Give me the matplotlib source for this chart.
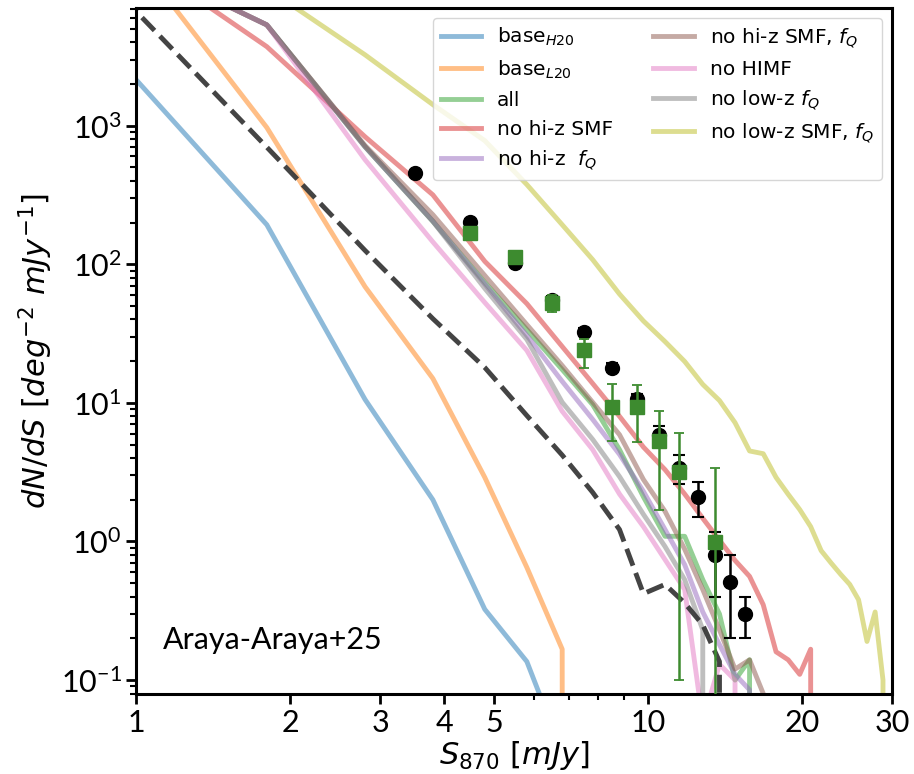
import numpy as np
import matplotlib
matplotlib.use("Agg")
import matplotlib.pyplot as plt
from matplotlib.ticker import FixedLocator, NullFormatter

plt.rcParams["font.family"] = ["Lato", "DejaVu Sans"]
plt.rcParams["mathtext.fontset"] = "dejavusans"

# flux bins of the model counts [mJy]
s_bins = [0.8, 1.8, 2.8, 3.8, 4.8, 5.8, 6.8, 7.8, 8.8, 9.8,
          10.8, 11.8, 12.8, 13.8, 14.8, 15.8, 16.8, 17.8, 18.8, 19.8,
          20.8, 21.8, 22.8, 23.8, 24.8, 25.8, 26.8, 27.8, 28.8, 29.8]

# model number counts dN/dS, one list per run (0 = no sources)
base_h20 = [5350, 193, 10.6, 2.0, 0.324, 0.136, 0.03, 0]
base_l20 = [47100, 970, 69, 15, 2.9, 0.65, 0.167, 0]
run_all = [22600, 5340, 706, 204, 74, 33.8, 17.4, 9.7, 4.6, 2.1, 1.09, 1.09,
           0.53, 0.30, 0.10, 0.14, 0]
no_hiz_smf = [29100, 3720, 833, 317, 105, 52, 25.5, 13.8, 8.0, 4.8, 3.3, 2.2,
              1.47, 1.02, 0.73, 0.56, 0.35, 0.16, 0.14, 0.11, 0.167, 0]
no_hiz_fq = [22600, 5340, 706, 205, 72, 30.6, 14.3, 7.6, 4.25, 2.3, 1.22, 0.68,
             0.31, 0.18, 0.11, 0.085, 0]
no_hiz_smf_fq = [22600, 5340, 720, 228, 83, 36.7, 18.6, 10.1, 5.9, 2.8, 1.65,
                 0.88, 0.45, 0.23, 0.12, 0.14, 0.08, 0]
no_himf = [22600, 5340, 569, 145, 53, 23.9, 8.7, 4.6, 2.2, 1.28, 0.74, 0.45,
           0.05, 0.13, 0.10, 0]
no_lowz_fq = [22600, 5340, 706, 204, 67, 28.7, 10.1, 5.45, 2.94, 1.57, 0.92,
              0.53, 0.23, 0]
no_lowz_smf_fq = [73300, 9800, 3250, 1420, 780, 376, 193, 108, 61, 39, 27.7,
                  19.9, 13.6, 10.4, 7.2, 4.5, 4.3, 2.9, 2.19, 1.70, 1.28, 0.86,
                  0.70, 0.58, 0.49, 0.38, 0.19, 0.31, 0.10, 0]
dashed_ref = [15700, 700, 126, 40.5, 18, 8.1, 4.2, 2.26, 1.22, 0.42, 0.49,
              0.36, 0.25, 0.136, 0]

labels = [r"base$_{H20}$", r"base$_{L20}$", "all", "no hi-z SMF",
          r"no hi-z  $f_Q$", r"no hi-z SMF, $f_Q$", "no HIMF",
          r"no low-z $f_Q$", r"no low-z SMF, $f_Q$"]

# observed counts (black circles)
obs1_s = [3.5, 4.5, 5.5, 6.5, 7.5, 8.5, 9.5, 10.5, 11.5, 12.5, 13.5, 14.5, 15.5]
obs1_n = [458, 203, 103, 55.6, 32.7, 18.0, 10.6, 5.9, 3.4, 2.08, 0.80, 0.51, 0.30]
obs1_lo = [15, 8, 5, 3, 2, 1.3, 1.0, 0.8, 0.8, 0.59, 0.40, 0.31, 0.10]
obs1_hi = [15, 8, 5, 3, 2, 1.3, 1.0, 0.86, 0.8, 0.59, 0.38, 0.29, 0.095]

# observed counts (green squares)
obs2_s = [4.5, 5.5, 6.5, 7.5, 8.5, 9.5, 10.5, 11.5, 13.5]
obs2_n = [169, 112, 53, 23.9, 9.4, 9.4, 5.27, 3.15, 0.99]
obs2_lo = [10, 8, 8, 5.9, 4.1, 4.2, 3.57, 3.05, 0.98]
obs2_hi = [10, 8, 7, 5, 4.2, 4.0, 3.43, 2.95, 2.41]

fig = plt.figure(figsize=(9.14, 7.74), dpi=100)
ax = fig.add_axes([0.149, 0.1034, 0.827, 0.8866])

runs = [base_h20, base_l20, run_all, no_hiz_smf, no_hiz_fq, no_hiz_smf_fq,
        no_himf, no_lowz_fq, no_lowz_smf_fq]
for i, vals in enumerate(runs):
    ax.plot(s_bins[:len(vals)], vals, color="C%d" % i, alpha=0.5, lw=3.5,
            label=labels[i])

ax.plot(s_bins[:len(dashed_ref)], dashed_ref, ls="--", color="#3a3a3a",
        lw=3.5, alpha=0.95)

ax.errorbar(obs1_s, obs1_n, yerr=[obs1_lo, obs1_hi], fmt="o", color="black",
            ms=10, elinewidth=1.8, capsize=4, capthick=1.5, zorder=5)
ax.errorbar(obs2_s, obs2_n, yerr=[obs2_lo, obs2_hi], fmt="s", color="#3d8b2f",
            ms=10.5, elinewidth=1.8, capsize=3.5, capthick=1.3, zorder=6)

ax.set_xscale("log")
ax.set_yscale("log")
ax.set_xlim(1, 30)
ax.set_ylim(0.0794, 7100)

ax.xaxis.set_major_locator(FixedLocator([1, 2, 3, 4, 5, 10, 20, 30]))
ax.xaxis.set_minor_locator(FixedLocator([6, 7, 8, 9]))
ax.set_xticklabels(["1", "2", "3", "4", "5", "10", "20", "30"])
ax.xaxis.set_minor_formatter(NullFormatter())

ax.tick_params(which="major", labelsize=22, length=7, width=2)
ax.tick_params(which="minor", length=4, width=1.5)
for sp in ax.spines.values():
    sp.set_linewidth(2.2)

ax.set_xlabel(r"$S_{870}\ [mJy]$", fontsize=22, labelpad=2)
ax.set_ylabel(r"$dN/dS\ [deg^{-2}\ mJy^{-1}]$", fontsize=22, labelpad=4)

ax.text(0.035, 0.065, "Araya-Araya+25", transform=ax.transAxes, fontsize=22)

ax.legend(loc="upper right", ncol=2, prop={"family": "DejaVu Sans", "size": 14.5})

fig.savefig("out.png", dpi=100)
